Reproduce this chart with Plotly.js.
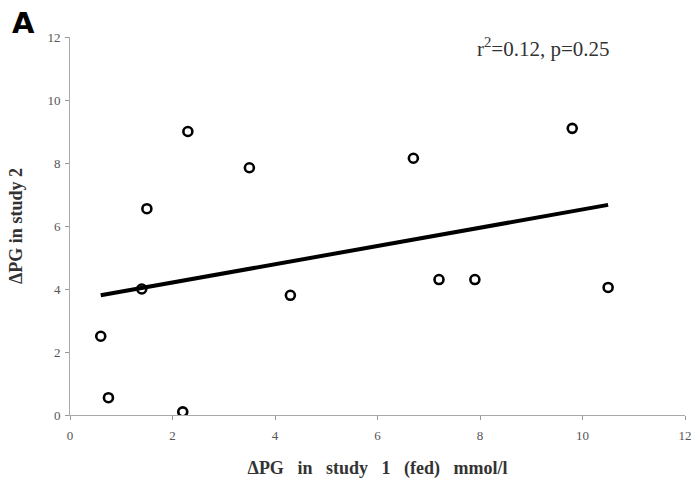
<!DOCTYPE html>
<html><head><meta charset="utf-8">
<script src="https://cdn.plot.ly/plotly-3.0.1.min.js"></script>
<style>html,body{margin:0;padding:0;background:#fff;}</style>
</head><body>
<div id="chart" style="width:696px;height:479px;"></div>
<script>
var studyOneFed = [0.6, 0.75, 1.4, 1.5, 2.2, 2.3, 3.5, 4.3, 6.7, 7.2, 7.9, 9.8, 10.5];
var studyTwo    = [2.5, 0.55, 4.0, 6.55, 0.1, 9.0, 7.85, 3.8, 8.15, 4.3, 4.3, 9.1, 4.05];
var fitX = [0.6, 10.5];
var fitY = [3.8, 6.67];
var tickVals = [0, 2, 4, 6, 8, 10, 12];

var serif = "Liberation Serif, Times New Roman, serif";
var traces = [
  {x: fitX, y: fitY, mode: 'lines', line: {color: '#000', width: 4}, hoverinfo: 'skip'},
  {x: studyOneFed, y: studyTwo, mode: 'markers',
   marker: {symbol: 'circle-open', size: 9, color: '#000', line: {width: 2.6, color: '#000'}}}
];
var axisCommon = {
  range: [0, 12], tickvals: tickVals, ticks: 'outside', ticklen: 4, tickcolor: '#999',
  showgrid: false, zeroline: false, showline: true, linecolor: '#aaa', linewidth: 1,
  tickfont: {family: serif, size: 13, color: '#555'}
};
var layout = {
  width: 696, height: 479, showlegend: false,
  paper_bgcolor: '#fff', plot_bgcolor: '#fff',
  margin: {l: 70, r: 11, t: 37, b: 64},
  xaxis: Object.assign({}, axisCommon, {
    ticklabelstandoff: 4,
    title: {text: '\u0394PG   in   study   1   (fed)   mmol/l', font: {family: serif, size: 18, color: '#333', weight: 'bold'}, standoff: 19}
  }),
  yaxis: Object.assign({}, axisCommon, {
    ticklabelstandoff: 2,
    title: {text: '\u0394PG in study 2', font: {family: serif, size: 18, color: '#333', weight: 'bold'}, standoff: 20}
  }),
  annotations: [
    {text: 'A', xref: 'paper', yref: 'paper', x: -0.098, y: 1.087, xanchor: 'left', yanchor: 'top',
     showarrow: false, font: {family: 'DejaVu Sans, Arial, sans-serif', size: 29, color: '#000', weight: 'bold'}},
    {text: 'r<sup>2</sup>=0.12, p=0.25', xref: 'x', yref: 'y', x: 9.23, y: 11.68, xanchor: 'center', yanchor: 'middle',
     showarrow: false, font: {family: serif, size: 21, color: '#333'}}
  ]
};
Plotly.newPlot('chart', traces, layout, {displayModeBar: false, staticPlot: true});
</script>
</body></html>
